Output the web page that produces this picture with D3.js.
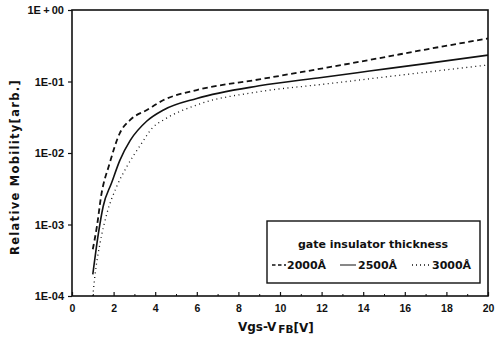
<!DOCTYPE html>
<html>
<head>
<meta charset="utf-8">
<script src="https://cdn.jsdelivr.net/npm/d3@7"></script>
<style>
  body { margin: 0; background: #fff; }
  svg { display: block; font-family: 'DejaVu Sans', 'Liberation Sans', sans-serif; font-weight: bold; }
</style>
</head>
<body>
<svg id="chart"></svg>
<script>
// values
const xTicks = [0, 2, 4, 6, 8, 10, 12, 14, 16, 18, 20]
const yTicks = [1e-4, 1e-3, 1e-2, 1e-1, 1]
const yTickLabels = ['1E-04', '1E-03', '1E-02', '1E-01', '1E\u2009+\u200900']
const legendTitle = 'gate insulator thickness'
const seriesNames = ['2000Å', '2500Å', '3000Å']

const x2000 = [1.0, 1.2, 1.4, 1.8, 2.3, 2.8, 3.6, 4.4, 6, 9, 11, 14.3, 17, 20]
const y2000 = [4.5e-4, 9.5e-4, 2.5e-3, 7e-3, 1.9e-2, 2.9e-2, 4.0e-2, 5.5e-2, 7.6e-2, 0.107, 0.135, 0.2, 0.28, 0.40]

const x2500 = [1.0, 1.27, 1.5, 1.9, 2.3, 2.8, 3.6, 4.4, 6, 9, 12, 14.3, 17, 20]
const y2500 = [2e-4, 7.5e-4, 1.8e-3, 3.8e-3, 7.9e-3, 1.5e-2, 2.8e-2, 4.0e-2, 5.8e-2, 8.7e-2, 0.114, 0.14, 0.178, 0.234]

const x3000 = [1.0, 1.1, 1.35, 1.67, 2.15, 2.63, 3.3, 3.9, 4.4, 6, 9, 12, 14.3, 17, 20]
const y3000 = [1e-4, 1.9e-4, 5.5e-4, 1.4e-3, 3.4e-3, 6.4e-3, 1.3e-2, 2.3e-2, 2.9e-2, 4.7e-2, 7.2e-2, 0.091, 0.109, 0.135, 0.17]

const width = 495
const height = 339
const margin = { top: 10, right: 7, bottom: 43, left: 72 }

const svg = d3.select('#chart').attr('width', width).attr('height', height)

const xScale = d3.scaleLinear()
    .domain([0, 20])
    .range([margin.left, width - margin.right])

const yScale = d3.scaleLog()
    .domain([1e-4, 1])
    .range([height - margin.bottom, margin.top])

// frame
svg.append('rect')
    .attr('x', margin.left)
    .attr('y', margin.top)
    .attr('width', width - margin.left - margin.right)
    .attr('height', height - margin.top - margin.bottom)
    .attr('fill', 'none')
    .attr('stroke', '#111')
    .attr('stroke-width', 1.6)

// x axis, ticks pointing in
const xAxis = svg.append('g')
    .attr('transform', `translate(0,${height - margin.bottom})`)
    .call(d3.axisBottom(xScale).tickValues(xTicks).tickSizeInner(-4).tickSizeOuter(0).tickPadding(9))
xAxis.select('.domain').remove()
xAxis.selectAll('line').attr('stroke', '#111').attr('stroke-width', 1.2)
xAxis.selectAll('text').attr('font-size', 10.5).attr('font-weight', 'bold').attr('fill', '#111')

svg.append('g')
    .attr('transform', `translate(0,${height - margin.bottom})`)
    .call(d3.axisBottom(xScale).tickValues(d3.range(1, 20, 2)).tickSize(-2).tickFormat(''))
    .call(g => g.select('.domain').remove())
    .selectAll('line').attr('stroke', '#111')

// y axis, ticks pointing out
const yAxis = svg.append('g')
    .attr('transform', `translate(${margin.left},0)`)
    .call(d3.axisLeft(yScale).tickValues(yTicks).tickSizeInner(4).tickSizeOuter(0).tickPadding(4)
        .tickFormat((d, i) => yTickLabels[i]))
yAxis.select('.domain').remove()
yAxis.selectAll('line').attr('stroke', '#111').attr('stroke-width', 1.2)
yAxis.selectAll('text').attr('font-size', 11).attr('font-weight', 'bold').attr('fill', '#111')

// axis titles
svg.append('text')
    .attr('transform', `translate(19,${(margin.top + height - margin.bottom) / 2 + 14}) rotate(-90)`)
    .attr('text-anchor', 'middle')
    .attr('font-size', 11.5)
    .attr('letter-spacing', 1.3)
    .attr('fill', '#111')
    .text('Relative Mobility[arb.]')

const xTitle = svg.append('text')
    .attr('x', xScale(9.8))
    .attr('y', 331)
    .attr('text-anchor', 'middle')
    .attr('font-size', 12)
    .attr('fill', '#111')
xTitle.append('tspan').text('Vgs-V')
xTitle.append('tspan').attr('font-size', 10.5).attr('dx', 2).attr('dy', 2).text('FB')
xTitle.append('tspan').attr('dy', -1).text('[V]')

// curves
const series = [
    { xs: x2000, ys: y2000, dash: '5.5,3.5', w: 1.8 },
    { xs: x2500, ys: y2500, dash: null, w: 1.6 },
    { xs: x3000, ys: y3000, dash: '1,3.5', w: 1.3 },
]

const line = d3.line()
    .x(d => xScale(d[0]))
    .y(d => yScale(d[1]))
    .curve(d3.curveMonotoneX)

series.forEach(s => {
    svg.append('path')
        .datum(s.xs.map((v, i) => [v, s.ys[i]]))
        .attr('fill', 'none')
        .attr('stroke', '#111')
        .attr('stroke-width', s.w)
        .attr('stroke-dasharray', s.dash)
        .attr('d', line)
})

// legend
const lg = svg.append('g')
lg.append('rect')
    .attr('x', 267).attr('y', 221)
    .attr('width', 213).attr('height', 62)
    .attr('fill', '#fff')
    .attr('stroke', '#111')
    .attr('stroke-width', 1.4)
lg.append('text')
    .attr('x', 373).attr('y', 248)
    .attr('text-anchor', 'middle')
    .attr('font-size', 11)
    .attr('fill', '#111')
    .text(legendTitle)

const items = [
    { x0: 272, x1: 286, tx: 287 },
    { x0: 340, x1: 356, tx: 358 },
    { x0: 412, x1: 430, tx: 432 },
]
items.forEach((it, i) => {
    lg.append('line')
        .attr('x1', it.x0).attr('x2', it.x1)
        .attr('y1', 265).attr('y2', 265)
        .attr('stroke', '#111')
        .attr('stroke-width', series[i].dash ? 1.4 : 1)
        .attr('stroke-dasharray', series[i].dash ? (i === 0 ? '3.5,2.5' : '1,3') : null)
    lg.append('text')
        .attr('x', it.tx).attr('y', 269)
        .attr('font-size', 11)
        .attr('fill', '#111')
        .text(seriesNames[i])
})
</script>
</body>
</html>
